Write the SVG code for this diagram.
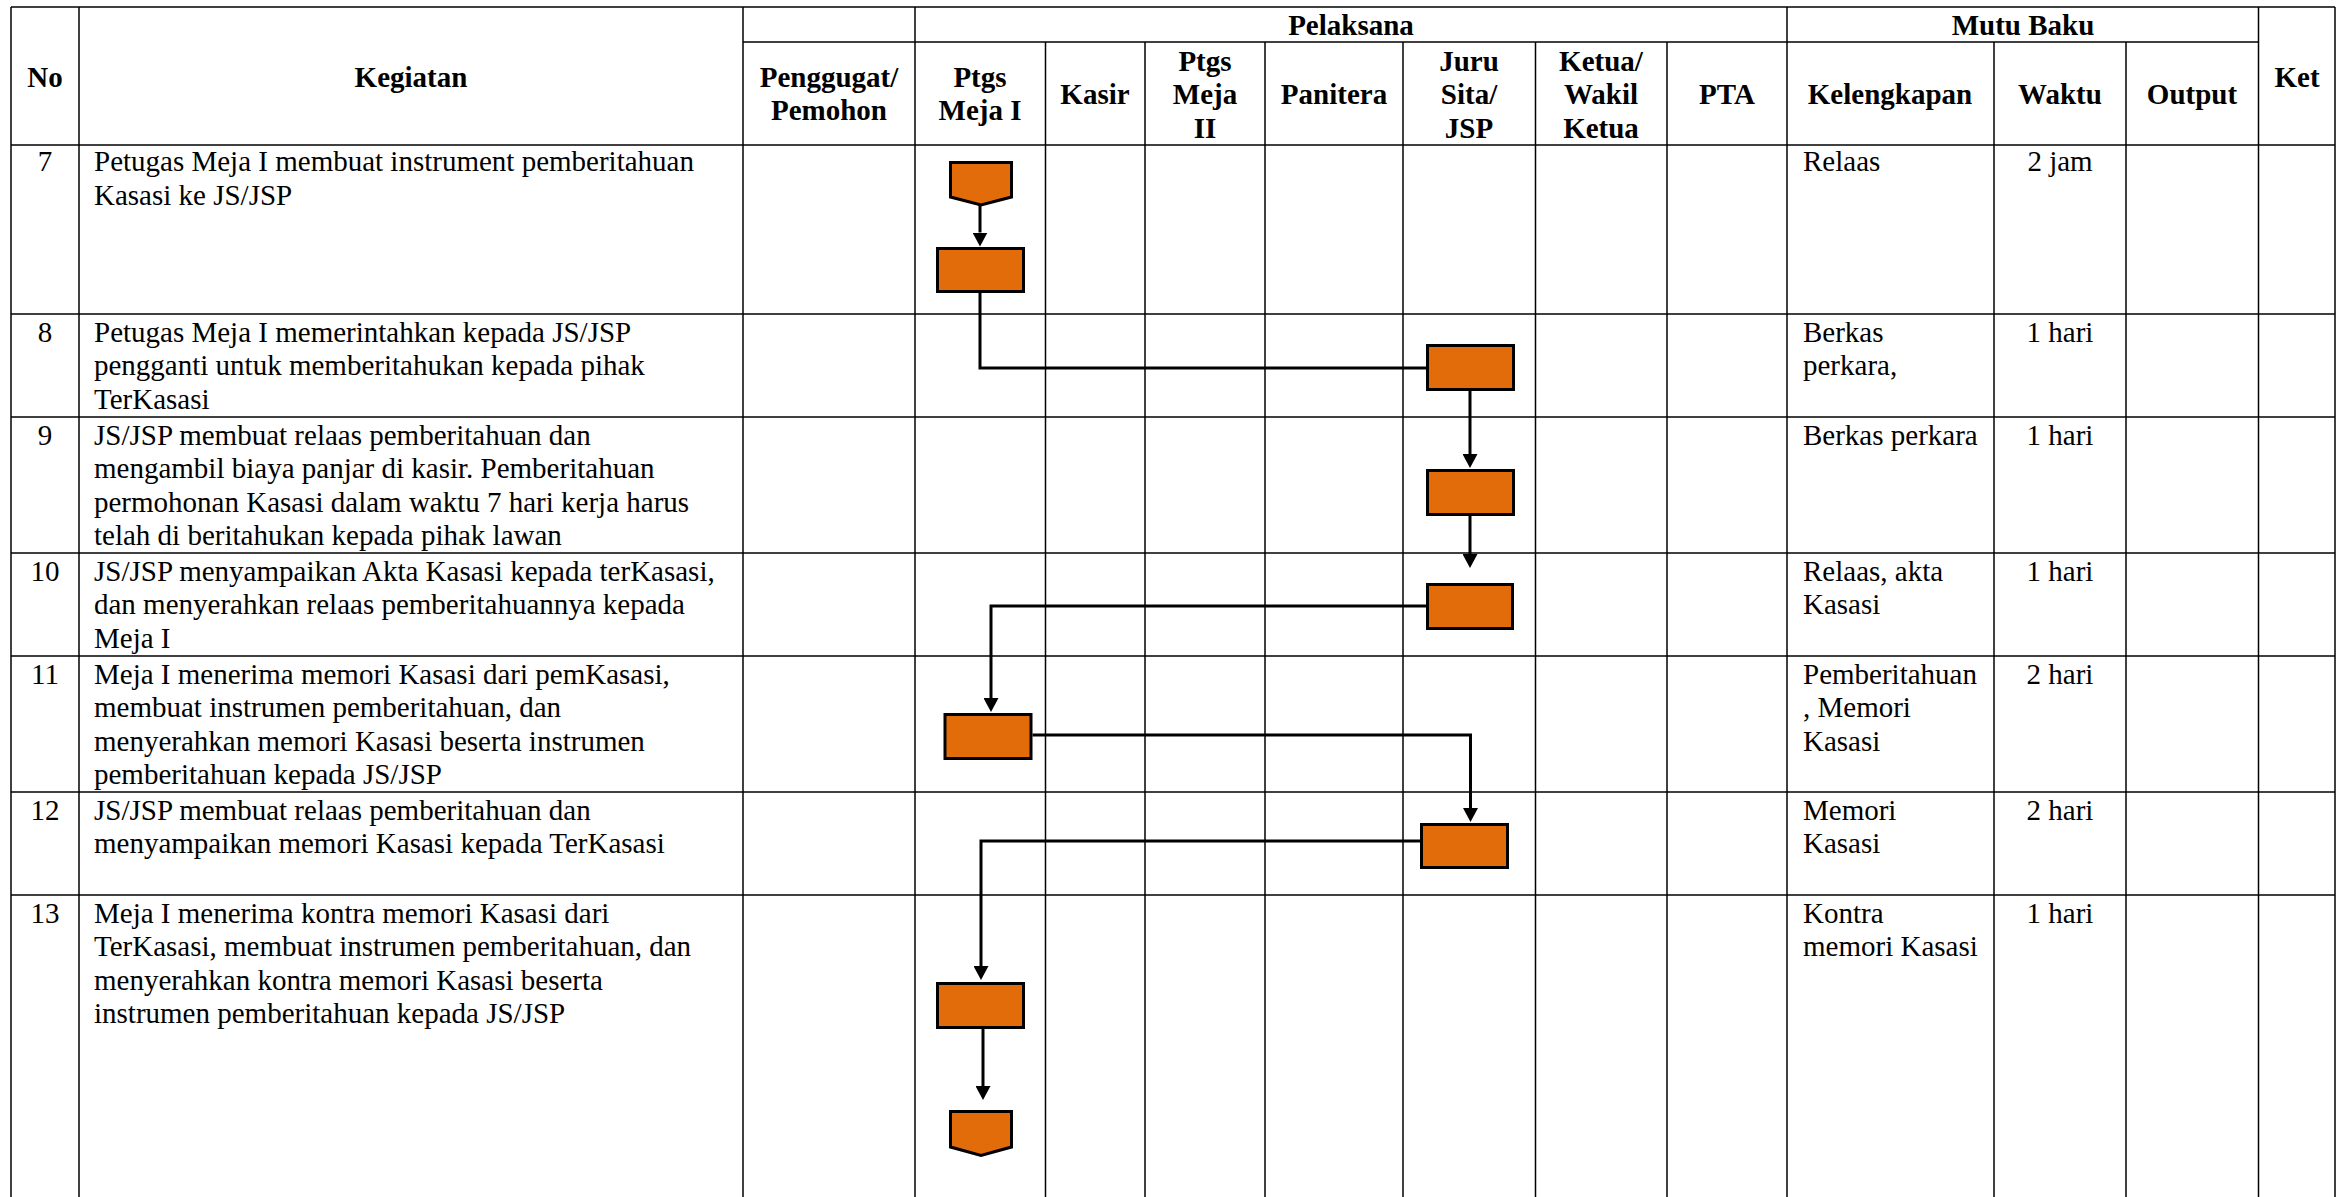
<svg xmlns="http://www.w3.org/2000/svg" width="2339" height="1197" viewBox="0 0 2339 1197">
<style>
text{font-family:"Liberation Serif","Times New Roman",serif;font-size:29px;fill:#000}
.h{font-weight:bold;text-anchor:middle}
.c{text-anchor:middle}
.g line{stroke:#000;stroke-width:1.5}
.box{fill:#E36C0A;stroke:#000;stroke-width:3}
.conn path{fill:none;stroke:#000;stroke-width:3}
</style>
<defs>
<marker id="ah" markerUnits="userSpaceOnUse" markerWidth="14" markerHeight="15" refX="0" refY="7.5" orient="auto">
<path d="M0,0 L14,7.5 L0,15 z" fill="#000"/>
</marker>
</defs>
<rect width="2339" height="1197" fill="#fff"/>
<g id="grid" class="g">
<line x1="11" y1="7" x2="2335" y2="7"/>
<line x1="743" y1="42" x2="2258.5" y2="42"/>
<line x1="11" y1="145" x2="2335" y2="145"/>
<line x1="11" y1="314" x2="2335" y2="314"/>
<line x1="11" y1="417" x2="2335" y2="417"/>
<line x1="11" y1="553" x2="2335" y2="553"/>
<line x1="11" y1="656" x2="2335" y2="656"/>
<line x1="11" y1="792" x2="2335" y2="792"/>
<line x1="11" y1="895" x2="2335" y2="895"/>
<line x1="11" y1="7" x2="11" y2="1197"/>
<line x1="79" y1="7" x2="79" y2="1197"/>
<line x1="743" y1="7" x2="743" y2="1197"/>
<line x1="915" y1="7" x2="915" y2="1197"/>
<line x1="1045.5" y1="42" x2="1045.5" y2="1197"/>
<line x1="1145" y1="42" x2="1145" y2="1197"/>
<line x1="1265" y1="42" x2="1265" y2="1197"/>
<line x1="1403" y1="42" x2="1403" y2="1197"/>
<line x1="1535.5" y1="42" x2="1535.5" y2="1197"/>
<line x1="1667" y1="42" x2="1667" y2="1197"/>
<line x1="1787" y1="7" x2="1787" y2="1197"/>
<line x1="1994" y1="42" x2="1994" y2="1197"/>
<line x1="2126" y1="42" x2="2126" y2="1197"/>
<line x1="2258.5" y1="7" x2="2258.5" y2="1197"/>
<line x1="2335" y1="7" x2="2335" y2="1197"/>
</g>
<g id="header">
<text class="h" x="45" y="87">No</text>
<text class="h" x="411" y="87">Kegiatan</text>
<text class="h" x="2297" y="87">Ket</text>
<text class="h" x="1351" y="35">Pelaksana</text>
<text class="h" x="2023" y="35">Mutu Baku</text>
<text class="h" x="829" y="86.5">Penggugat/</text>
<text class="h" x="829" y="120">Pemohon</text>
<text class="h" x="980" y="86.5">Ptgs</text>
<text class="h" x="980" y="120">Meja I</text>
<text class="h" x="1095" y="103.5">Kasir</text>
<text class="h" x="1205" y="70.5">Ptgs</text>
<text class="h" x="1205" y="104">Meja</text>
<text class="h" x="1205" y="137.5">II</text>
<text class="h" x="1334" y="103.5">Panitera</text>
<text class="h" x="1469" y="70.5">Juru</text>
<text class="h" x="1469" y="104">Sita/</text>
<text class="h" x="1469" y="137.5">JSP</text>
<text class="h" x="1601" y="70.5">Ketua/</text>
<text class="h" x="1601" y="104">Wakil</text>
<text class="h" x="1601" y="137.5">Ketua</text>
<text class="h" x="1727" y="103.5">PTA</text>
<text class="h" x="1890" y="103.5">Kelengkapan</text>
<text class="h" x="2060" y="103.5">Waktu</text>
<text class="h" x="2192" y="103.5">Output</text>
</g>
<g id="row7">
<text class="c" x="45" y="171">7</text>
<text x="94" y="171">Petugas Meja I membuat instrument pemberitahuan</text>
<text x="94" y="204.5">Kasasi ke JS/JSP</text>
<text x="1803" y="171">Relaas</text>
<text class="c" x="2060" y="171">2 jam</text>
</g>
<g id="row8">
<text class="c" x="45" y="341.5">8</text>
<text x="94" y="341.5">Petugas Meja I memerintahkan kepada JS/JSP</text>
<text x="94" y="375">pengganti untuk memberitahukan kepada pihak</text>
<text x="94" y="408.5">TerKasasi</text>
<text x="1803" y="341.5">Berkas</text>
<text x="1803" y="375">perkara,</text>
<text class="c" x="2060" y="341.5">1 hari</text>
</g>
<g id="row9">
<text class="c" x="45" y="444.5">9</text>
<text x="94" y="444.5">JS/JSP membuat relaas pemberitahuan dan</text>
<text x="94" y="478">mengambil biaya panjar di kasir. Pemberitahuan</text>
<text x="94" y="511.5">permohonan Kasasi dalam waktu 7 hari kerja harus</text>
<text x="94" y="545">telah di beritahukan kepada pihak lawan</text>
<text x="1803" y="444.5">Berkas perkara</text>
<text class="c" x="2060" y="444.5">1 hari</text>
</g>
<g id="row10">
<text class="c" x="45" y="580.5">10</text>
<text x="94" y="580.5">JS/JSP menyampaikan Akta Kasasi kepada terKasasi,</text>
<text x="94" y="614">dan menyerahkan relaas pemberitahuannya kepada</text>
<text x="94" y="647.5">Meja I</text>
<text x="1803" y="580.5">Relaas, akta</text>
<text x="1803" y="614">Kasasi</text>
<text class="c" x="2060" y="580.5">1 hari</text>
</g>
<g id="row11">
<text class="c" x="45" y="683.5">11</text>
<text x="94" y="683.5">Meja I menerima memori Kasasi dari pemKasasi,</text>
<text x="94" y="717">membuat instrumen pemberitahuan, dan</text>
<text x="94" y="750.5">menyerahkan memori Kasasi beserta instrumen</text>
<text x="94" y="784">pemberitahuan kepada JS/JSP</text>
<text x="1803" y="683.5">Pemberitahuan</text>
<text x="1803" y="717">, Memori</text>
<text x="1803" y="750.5">Kasasi</text>
<text class="c" x="2060" y="683.5">2 hari</text>
</g>
<g id="row12">
<text class="c" x="45" y="819.5">12</text>
<text x="94" y="819.5">JS/JSP membuat relaas pemberitahuan dan</text>
<text x="94" y="853">menyampaikan memori Kasasi kepada TerKasasi</text>
<text x="1803" y="819.5">Memori</text>
<text x="1803" y="853">Kasasi</text>
<text class="c" x="2060" y="819.5">2 hari</text>
</g>
<g id="row13">
<text class="c" x="45" y="922.5">13</text>
<text x="94" y="922.5">Meja I menerima kontra memori Kasasi dari</text>
<text x="94" y="956">TerKasasi, membuat instrumen pemberitahuan, dan</text>
<text x="94" y="989.5">menyerahkan kontra memori Kasasi beserta</text>
<text x="94" y="1023">instrumen pemberitahuan kepada JS/JSP</text>
<text x="1803" y="922.5">Kontra</text>
<text x="1803" y="956">memori Kasasi</text>
<text class="c" x="2060" y="922.5">1 hari</text>
</g>
<g id="connectors" class="conn">
<path d="M980,205 V232.5" marker-end="url(#ah)"/>
<path d="M980,293 V368 H1426"/>
<path d="M1470,391 V454" marker-end="url(#ah)"/>
<path d="M1470,516 V554" marker-end="url(#ah)"/>
<path d="M1426,606 H991 V698" marker-end="url(#ah)"/>
<path d="M1032.5,735 H1470.5 V808" marker-end="url(#ah)"/>
<path d="M1420,841 H981 V966" marker-end="url(#ah)"/>
<path d="M983,1029 V1086" marker-end="url(#ah)"/>
</g>
<g id="start-connector"><path class="box" d="M950.5,162.5 H1011.5 V197 L981,205 L950.5,197 Z"/></g>
<g id="step7"><rect class="box" x="937.5" y="248.5" width="86" height="43"/></g>
<g id="step8"><rect class="box" x="1427.5" y="345.5" width="86" height="44"/></g>
<g id="step9"><rect class="box" x="1427.5" y="470.5" width="86" height="44"/></g>
<g id="step10"><rect class="box" x="1427.5" y="584.5" width="85" height="44"/></g>
<g id="step11"><rect class="box" x="945" y="714.5" width="86" height="44"/></g>
<g id="step12"><rect class="box" x="1421.5" y="824.5" width="86" height="43"/></g>
<g id="step13"><rect class="box" x="937.5" y="983.5" width="86" height="44"/></g>
<g id="end-connector"><path class="box" d="M950.5,1111.5 H1011.5 V1147 L981,1155.5 L950.5,1147 Z"/></g>
</svg>
